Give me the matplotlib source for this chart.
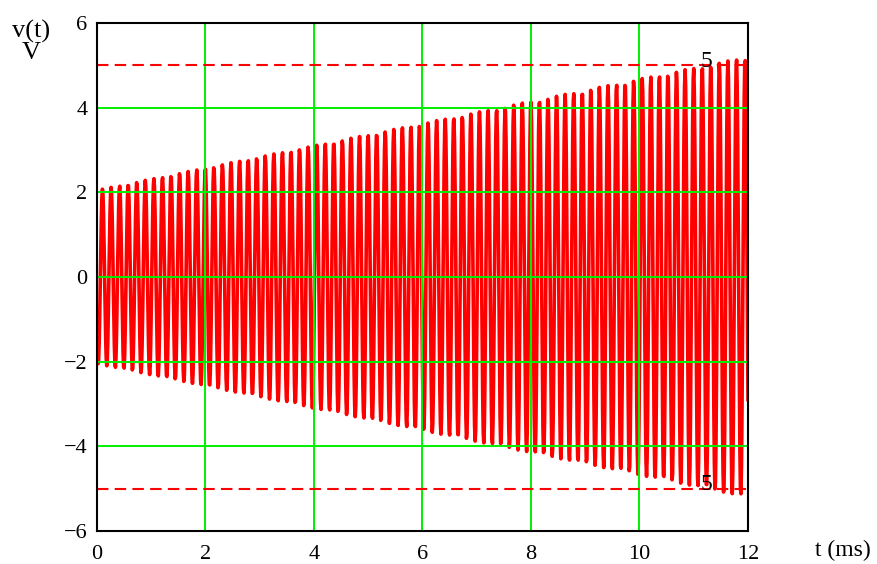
import numpy as np
import matplotlib
matplotlib.use("Agg")
import matplotlib.pyplot as plt

# Signal: sine with an amplitude that rises linearly over the sweep
T_START_MS = 0.0
T_END_MS = 12.0
N_SAMPLES = 1201         # range variable step of 0.01 ms
AMP_START = 2.05         # V at t = 0
AMP_END = 5.2            # V at t = 12 ms
FREQ_KHZ = 6.332
PHASE_CYCLES = -0.39

# Limit markers and axis ticks
MARKER_LEVEL = 5
X_TICKS = [0, 2, 4, 6, 8, 10, 12]
Y_TICKS = [-6, -4, -2, 0, 2, 4, 6]

plt.rcParams['font.family'] = ['Liberation Serif', 'DejaVu Serif']
plt.rcParams['axes.unicode_minus'] = True

t = np.linspace(T_START_MS, T_END_MS, N_SAMPLES)
amp = AMP_START + (AMP_END - AMP_START) * (t - T_START_MS) / (T_END_MS - T_START_MS)
v = amp * np.sin(2 * np.pi * (FREQ_KHZ * t + PHASE_CYCLES))

fig = plt.figure(figsize=(8.77, 5.64), dpi=100)
W, H = 877, 564
ax = fig.add_axes([97 / W, 33 / H, 651 / W, 508 / H])

ax.plot(t, v, color='#ff0000', linewidth=2.6, zorder=2)

# green grid on top of the trace, like the Mathcad plot
for xv in X_TICKS[1:-1]:
    ax.axvline(xv, color='#00f000', linewidth=1.4, zorder=3)
for yv in Y_TICKS[1:-1]:
    ax.axhline(yv, color='#00f000', linewidth=1.4, zorder=3)

# dashed limit markers at +/- 5 V
for lvl in (MARKER_LEVEL, -MARKER_LEVEL):
    ax.axhline(lvl, color='#ff0000', linewidth=1.5, dashes=(5.5, 3.0), zorder=4)
    ax.text(11.24, lvl + 0.1, f"{MARKER_LEVEL}", fontsize=17, ha='center',
            va='center', color='black', zorder=5)

ax.set_xlim(T_START_MS, T_END_MS)
ax.set_ylim(Y_TICKS[0], Y_TICKS[-1])
ax.set_xticks(X_TICKS)
ax.set_yticks(Y_TICKS)
ax.tick_params(axis='both', length=0, labelsize=16)
ax.tick_params(axis='x', pad=10)
ax.tick_params(axis='y', pad=7)

for sp in ax.spines.values():
    sp.set_color('black')
    sp.set_linewidth(1.5)
    sp.set_zorder(6)

fig.text(31 / W, 1 - 20 / H, "v(t)\nV", fontsize=19, ha='center', va='top',
         linespacing=0.95)
fig.text(843 / W, 1 - 550 / H, "t (ms)", fontsize=17, ha='center', va='center')

fig.savefig("out.png", dpi=100)
